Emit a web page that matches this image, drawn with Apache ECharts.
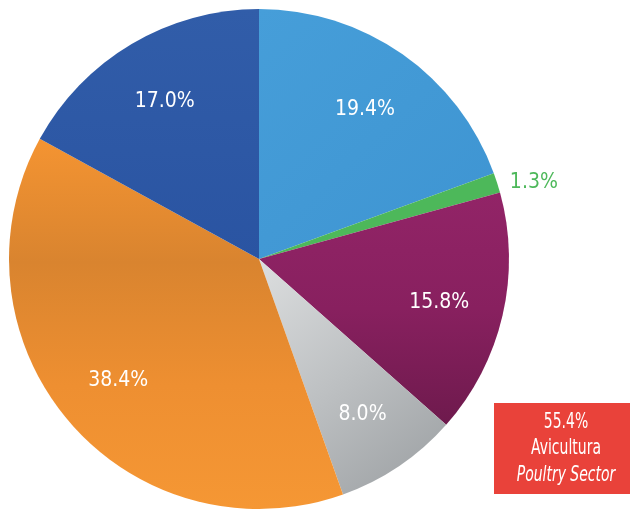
<!DOCTYPE html>
<html>
<head>
<meta charset="utf-8">
<script src="https://cdn.jsdelivr.net/npm/echarts@6/dist/echarts.min.js"></script>
<style>
  html, body { margin: 0; padding: 0; background: #ffffff; }
  #chart { width: 630px; height: 510px; }
</style>
</head>
<body>
<div id="chart"></div>
<script>
// Slice shares, clockwise from 12 o'clock
const sliceIds = ['A', 'B', 'C', 'D', 'E', 'F'];
const shares = [19.4, 1.3, 15.8, 8.0, 38.4, 17.0];
// Slices that make up the poultry sector
const poultry = [false, false, false, false, true, true];
const boxLines = ['Avicultura', 'Poultry Sector'];

const FONT = "'DejaVu Sans Condensed', 'DejaVu Sans', sans-serif";
// font-stretch keyword slipped into the canvas font shorthand
const STRETCH = 'condensed';
const CX = 259, CY = 259, R = 250;

function lin(x, y, x2, y2, stops) {
  return new echarts.graphic.LinearGradient(x, y, x2, y2,
    stops.map((c, i) => ({ offset: i / (stops.length - 1), color: c })));
}

const fills = [
  lin(0, 0, 1, 1, ['#469ed9', '#4299d5', '#3e94d2']),
  '#4db85a',
  lin(0, 0, 0, 1, ['#922467', '#88205f', '#6e1a4d']),
  lin(0, 0, 1, 1, ['#dcdedf', '#bcbfc1', '#9a9ea1']),
  lin(0, 0, 0, 1, ['#f49432', '#d9842f', '#ee8f31', '#f59734']),
  lin(0, 0, 0, 1, ['#315da9', '#2a54a2'])
];
const GREEN = '#4db85a';

const poultryTotal = shares.reduce((s, v, i) => s + (poultry[i] ? v : 0), 0);

const pct = v => v.toFixed(1) + '%';

// Visible slices; only the thin slice carries an outside label
const sliceData = shares.map((v, i) => {
  const item = { name: sliceIds[i], value: v, itemStyle: { color: fills[i] } };
  if (v < 5) {
    item.label = {
      show: true, position: 'outside', color: GREEN,
      fontFamily: FONT, fontWeight: STRETCH, fontSize: 21, distanceToLabelLine: 5,
      offset: [0, 1],
      formatter: p => pct(p.value)
    };
    item.labelLine = { show: false, length: 5, length2: 3 };
  }
  return item;
});

// Transparent carrier ring so inside labels sit further out along each slice
const labelData = shares.map((v, i) => ({
  name: sliceIds[i], value: v,
  label: { show: v >= 5 }
}));

const chart = echarts.init(document.getElementById('chart'), null, { renderer: 'canvas' });
chart.setOption({
  animation: false,
  backgroundColor: '#ffffff',
  series: [
    {
      type: 'pie',
      center: [CX, CY],
      radius: [0, R],
      startAngle: 90,
      clockwise: true,
      silent: true,
      avoidLabelOverlap: false,
      label: { show: false },
      labelLine: { show: false },
      itemStyle: { borderWidth: 0 },
      data: sliceData
    },
    {
      type: 'pie',
      center: [CX, CY],
      radius: [0, 364],
      startAngle: 90,
      clockwise: true,
      silent: true,
      z: 3,
      itemStyle: { color: 'rgba(0,0,0,0)', borderWidth: 0 },
      label: {
        show: true, position: 'inside', color: '#ffffff',
        fontFamily: FONT, fontWeight: STRETCH, fontSize: 21,
        offset: [0, 2],
        formatter: p => pct(p.value)
      },
      labelLine: { show: false },
      data: labelData
    }
  ],
  graphic: [
    {
      type: 'group',
      left: 494,
      top: 403,
      children: [
        { type: 'rect', shape: { x: 0, y: 0, width: 136, height: 91 }, style: { fill: '#e9423a' } },
        { type: 'text', x: 72, y: 19, scaleX: 0.74, scaleY: 1.05, style: { text: pct(poultryTotal), fill: '#ffffff', font: STRETCH + ' 21px ' + FONT, textAlign: 'center', textVerticalAlign: 'middle' } },
        { type: 'text', x: 72, y: 45, scaleX: 0.74, scaleY: 1.05, style: { text: boxLines[0], fill: '#ffffff', font: STRETCH + ' 21px ' + FONT, textAlign: 'center', textVerticalAlign: 'middle' } },
        { type: 'text', x: 72, y: 72, scaleX: 0.74, scaleY: 1.05, style: { text: boxLines[1], fill: '#ffffff', font: 'italic ' + STRETCH + ' 21px ' + FONT, textAlign: 'center', textVerticalAlign: 'middle' } }
      ]
    }
  ]
});
</script>
</body>
</html>
